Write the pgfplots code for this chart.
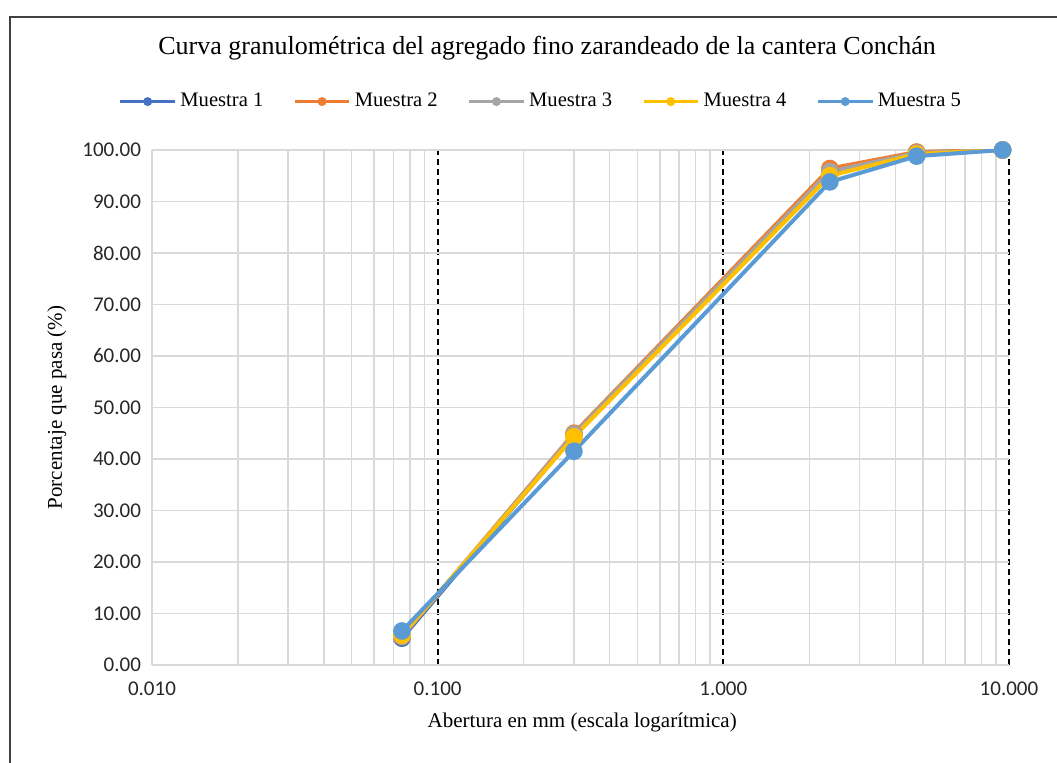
\documentclass[border=0pt]{standalone}
\usepackage{pgfplots}
\pgfplotsset{compat=1.18}
\usepackage{fontspec}
\setmainfont{Liberation Serif}
\newfontfamily\tickfont{Carlito}
\definecolor{mA}{HTML}{4472C4}
\definecolor{mB}{HTML}{ED7D31}
\definecolor{mC}{HTML}{A5A5A5}
\definecolor{mD}{HTML}{FFC000}
\definecolor{mE}{HTML}{5B9BD5}
\definecolor{gridg}{HTML}{D9D9D9}
\begin{document}
\begin{tikzpicture}
\useasboundingbox (-76pt,-49pt) rectangle (452.5pt,332.5pt);
\draw[color=black!75, line width=1.3pt] (-71pt,-49pt) -- (-71pt,324pt) -- (452.5pt,324pt);
\begin{axis}[
  at={(0,0)}, anchor=south west,
  scale only axis, width=428.5pt, height=257.5pt,
  xmode=log, log basis x=10,
  xmin=0.01, xmax=10, ymin=0, ymax=100,
  xtick={0.1,1,10}, xticklabels={0.100,1.000,10.000},
  extra x ticks={0.01}, extra x tick labels={0.010},
  extra x tick style={grid=major, major x grid style={solid, gridg, line width=0.8pt}, major grid style={solid, gridg, line width=0.8pt}},
  minor xtick={0.02,0.03,0.04,0.05,0.06,0.07,0.08,0.09,0.2,0.3,0.4,0.5,0.6,0.7,0.8,0.9,2,3,4,5,6,7,8,9},
  ytick={0,10,...,100},
  yticklabels={0.00,10.00,20.00,30.00,40.00,50.00,60.00,70.00,80.00,90.00,100.00},
  xmajorgrids, xminorgrids, ymajorgrids,
  major x grid style={black, line width=0.9pt, dash pattern=on 3pt off 2pt},
  minor grid style={gridg, line width=0.8pt},
  major y grid style={gridg, line width=0.8pt},
  axis line style={draw=none},
  major tick length=0pt, minor tick length=0pt,
  tick label style={font=\tickfont\fontsize{10.5}{12}\selectfont, text=black!85},
  xticklabel style={yshift=-5pt},
  yticklabel style={xshift=-2pt},
  xlabel={Abertura en mm (escala logarítmica)},
  ylabel={Porcentaje que pasa (\%)},
  xlabel style={at={(axis description cs:0.502,-0.111)}, anchor=center, font=\fontsize{10.5}{12}\selectfont},
  ylabel style={at={(axis description cs:-0.111,0.5)}, anchor=center, rotate=0, font=\fontsize{10.5}{12}\selectfont},
  title={Curva granulométrica del agregado fino zarandeado de la cantera Conchán},
  title style={at={(0.461,1.175)}, anchor=center, yshift=0pt, font=\fontsize{13}{15}\selectfont},
  legend columns=5,
  legend style={at={(0.455,1.094)}, anchor=center, draw=none, fill=none,
    font=\fontsize{10.3}{12}\selectfont, column sep=13pt,
    /tikz/every odd column/.append style={column sep=0pt}},
  legend image code/.code={\draw[#1, line width=1.4pt, mark repeat=2, mark phase=2, mark size=1.5pt] plot coordinates {(0cm,0cm) (0.48cm,0cm) (0.96cm,0cm)};},
  every axis plot/.append style={line width=2pt, mark=*, mark size=3.4pt},
]
\addplot[mA, mark options={fill=mA, draw=mA}] coordinates {(0.075,5.2) (0.3,44.5) (2.36,96.0) (4.75,99.5) (9.5,100)};
\addlegendentry{Muestra 1}
\addplot[mB, mark options={fill=mB, draw=mB}] coordinates {(0.075,5.5) (0.3,45.0) (2.36,96.4) (4.75,99.6) (9.5,100)};
\addlegendentry{Muestra 2}
\addplot[mC, mark options={fill=mC, draw=mC}] coordinates {(0.075,5.6) (0.3,44.8) (2.36,95.8) (4.75,99.4) (9.5,100)};
\addlegendentry{Muestra 3}
\addplot[mD, mark options={fill=mD, draw=mD}] coordinates {(0.075,5.8) (0.3,44.3) (2.36,95.0) (4.75,99.2) (9.5,100)};
\addlegendentry{Muestra 4}
\addplot[mE, mark options={fill=mE, draw=mE}] coordinates {(0.075,6.6) (0.3,41.5) (2.36,93.8) (4.75,98.8) (9.5,100)};
\addlegendentry{Muestra 5}
\end{axis}
\end{tikzpicture}
\end{document}
